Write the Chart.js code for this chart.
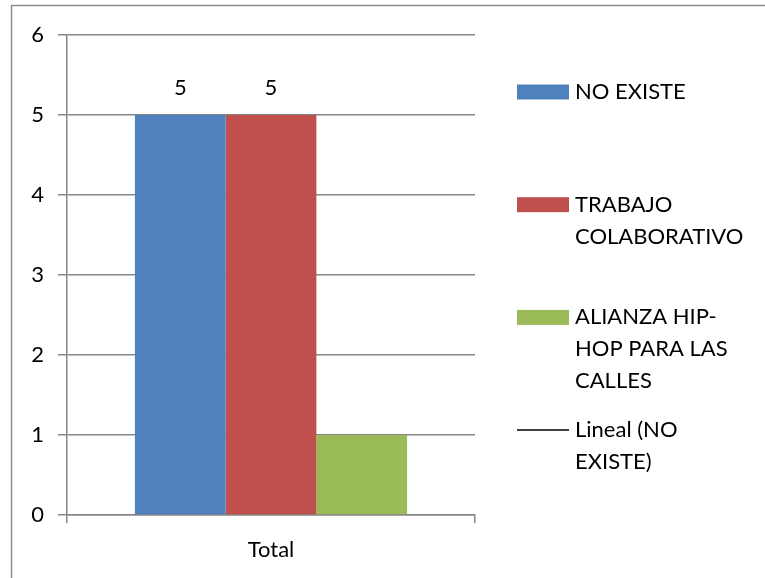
<!DOCTYPE html>
<html>
<head>
<meta charset="utf-8">
<script src="https://cdn.jsdelivr.net/npm/chart.js@4/dist/chart.umd.min.js"></script>
<style>
  html, body { margin: 0; padding: 0; background: #fff; }
  #wrap { width: 765px; height: 578px; position: relative; }
</style>
</head>
<body>
<div id="wrap"><canvas id="c" width="765" height="578"></canvas></div>
<script>
// ---- data ----
const categories = ["Total"];
const seriesNames = ["NO EXISTE", "TRABAJO COLABORATIVO", "ALIANZA HIP-HOP PARA LAS CALLES"];
const seriesValues = [[5], [5], [1]];
const seriesColors = ["#4F81BD", "#C0504D", "#9BBB59"];
const showValueLabel = [true, true, false];
const trendName = "Lineal (NO EXISTE)";
const trendValues = [5];
const yTicks = [0, 1, 2, 3, 4, 5, 6];
// legend text as wrapped lines
const legendLines = [
  ["NO EXISTE"],
  ["TRABAJO", "COLABORATIVO"],
  ["ALIANZA HIP-", "HOP PARA LAS", "CALLES"],
  ["Lineal (NO", "EXISTE)"]
];

const FONT = "Lato, 'Open Sans', sans-serif";
const gridColor = "#868686";

const datasets = seriesNames.map((n, i) => ({
  type: 'bar',
  label: n,
  data: seriesValues[i],
  backgroundColor: seriesColors[i],
  borderWidth: 0,
  categoryPercentage: 0.667,
  barPercentage: 1.0,
  order: 2
}));
datasets.push({
  type: 'line',
  label: trendName,
  data: trendValues,
  borderColor: '#000',
  borderWidth: 1.5,
  pointRadius: 0,
  fill: false,
  order: 1
});

const decorPlugin = {
  id: 'decor',
  afterDraw(chart) {
    const ctx = chart.ctx;
    ctx.save();
    // outer (partial) border
    ctx.strokeStyle = '#8c8c8c';
    ctx.lineWidth = 1.5;
    ctx.beginPath();
    ctx.moveTo(11.5, 578);
    ctx.lineTo(11.5, 5.5);
    ctx.lineTo(765, 5.5);
    ctx.stroke();

    // value labels
    ctx.fillStyle = '#000';
    ctx.font = "22px " + FONT;
    ctx.textAlign = 'center';
    ctx.textBaseline = 'middle';
    chart.data.datasets.forEach((ds, di) => {
      if (ds.type !== 'bar' || !showValueLabel[di]) return;
      const meta = chart.getDatasetMeta(di);
      meta.data.forEach((el, j) => {
        ctx.fillText(String(ds.data[j]), el.x, el.y - 27);
      });
    });

    // legend
    const boxX = 517, boxW = 52, boxH = 15, textX = 575;
    const startY = 92, step = 112.7, lineH = 32;
    ctx.textAlign = 'left';
    ctx.font = "22px " + FONT;
    chart.data.datasets.forEach((ds, di) => {
      const cy = startY + di * step;
      if (ds.type === 'bar') {
        ctx.fillStyle = ds.backgroundColor;
        ctx.fillRect(boxX, cy - boxH / 2, boxW, boxH);
      } else {
        ctx.strokeStyle = ds.borderColor;
        ctx.lineWidth = 1.5;
        ctx.beginPath();
        ctx.moveTo(boxX, cy);
        ctx.lineTo(boxX + boxW, cy);
        ctx.stroke();
      }
      ctx.fillStyle = '#000';
      legendLines[di].forEach((t, k) => {
        ctx.fillText(t, textX, cy + k * lineH);
      });
    });
    ctx.restore();
  }
};

new Chart(document.getElementById('c'), {
  data: { labels: categories, datasets },
  options: {
    responsive: false,
    animation: false,
    layout: { padding: { left: 0, right: 290, top: 35, bottom: 0 } },
    plugins: { legend: { display: false }, tooltip: { enabled: false } },
    scales: {
      x: {
        offset: true,
        grid: { display: true, offset: true, drawOnChartArea: false, drawTicks: true, tickLength: 8, color: gridColor, lineWidth: 1.5 },
        border: { display: true, color: gridColor, width: 1.5 },
        ticks: { color: '#000', font: { family: FONT, size: 22 }, padding: 14 },
        afterFit(s) { s.height = 63; }
      },
      y: {
        min: 0, max: 6,
        afterBuildTicks(s) { s.ticks = yTicks.map(v => ({ value: v })); },
        grid: { color: gridColor, lineWidth: 1.5, tickLength: 9 },
        border: { display: true, color: gridColor, width: 1.5 },
        ticks: { color: '#000', font: { family: FONT, size: 22 }, padding: 14 },
        afterFit(s) { s.width = 67; }
      }
    }
  },
  plugins: [decorPlugin]
});
</script>
</body>
</html>
